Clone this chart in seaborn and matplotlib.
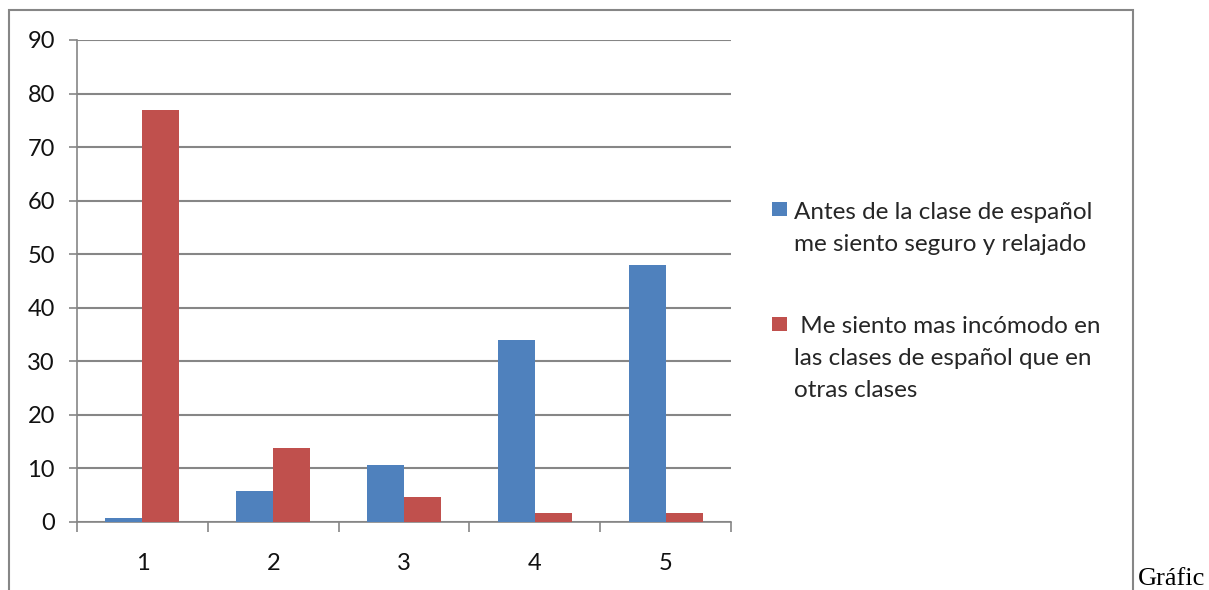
import numpy as np
import pandas as pd
import seaborn as sns
import matplotlib.pyplot as plt
from matplotlib.patches import Rectangle
from matplotlib.legend_handler import HandlerPatch

# data
categorias = ["1", "2", "3", "4", "5"]
seguro = [0.7, 5.8, 10.7, 34, 48]
incomodo = [77, 13.9, 4.7, 1.7, 1.7]
serie_a = "Antes de la clase de español\nme siento seguro y relajado"
serie_b = " Me siento mas incómodo en\nlas clases de español que en\notras clases"
yticks = np.arange(0, 91, 10)

df = pd.DataFrame({
    "cat": categorias * 2,
    "valor": seguro + incomodo,
    "serie": [serie_a] * 5 + [serie_b] * 5,
})

sns.set_theme(style="white")
plt.rcParams["font.family"] = ["Lato", "DejaVu Sans"]

GRIS = "#868686"
LEG_FS = 17.5
LEG_LS = 1.65
fig = plt.figure(figsize=(12.09, 5.90), dpi=100)
ax = fig.add_axes([77 / 1209, 1 - 522 / 590, 654 / 1209, 482 / 590])

sns.barplot(data=df, x="cat", y="valor", hue="serie", order=categorias,
            palette=["#4F81BD", "#C0504D"], width=0.566, gap=0,
            saturation=1, linewidth=0, ax=ax, zorder=3)

ax.set_xlim(-0.5, len(categorias) - 0.5)
ax.set_ylim(0, 90)
ax.set_yticks(yticks)
ax.set_xlabel("")
ax.set_ylabel("")
ax.grid(axis="y", color=GRIS, linewidth=1.5, zorder=0)
ax.set_axisbelow(True)
for s in ["top", "right"]:
    ax.spines[s].set_visible(False)
for s in ["left", "bottom"]:
    ax.spines[s].set_color(GRIS)
    ax.spines[s].set_linewidth(1.2)

ax.set_xticks(np.arange(-0.5, len(categorias)), minor=True)
ax.tick_params(axis="x", which="major", length=0, pad=22, labelsize=17,
               labelcolor="#111111")
ax.tick_params(axis="x", which="minor", length=7, width=1.2, color=GRIS,
               direction="out", bottom=True)
ax.tick_params(axis="y", length=6, width=1.2, color=GRIS, direction="out",
               left=True, pad=10, labelsize=17, labelcolor="#111111")


def cuadro_arriba(legend, orig_handle, xdescent, ydescent, width, height,
                  fontsize):
    # square aligned with the first text line of multi-line labels
    n = orig_handle.get_label().count("\n")
    lado = fontsize * 0.58
    dy = n * fontsize * 0.6 + fontsize * 0.2
    return Rectangle((width - lado - xdescent, height / 2 - lado / 2 - ydescent + dy),
                     lado, lado)


handles, labels = ax.get_legend_handles_labels()
for h, l in zip(handles, labels):
    h.set_label(l)
leg = ax.legend(handles, labels, loc="upper left",
                bbox_to_anchor=(744 / 1209, 1 - 180 / 590),
                bbox_transform=fig.transFigure, frameon=False,
                fontsize=LEG_FS, handlelength=0.85, handletextpad=0.3,
                labelspacing=2.5,
                handler_map={h: HandlerPatch(patch_func=cuadro_arriba)
                             for h in handles})
for t in leg.get_texts():
    t.set_linespacing(LEG_LS)

fig.add_artist(Rectangle((9 / 1209, -0.01), 1124 / 1209, 1 - 10 / 590 + 0.01,
                         transform=fig.transFigure, fill=False,
                         edgecolor=GRIS, linewidth=1.5))
fig.text(1138 / 1209, 1 - 585 / 590, "Gráfic", fontsize=19,
         family="Liberation Serif", color="black")

fig.savefig("out.png", dpi=100)
